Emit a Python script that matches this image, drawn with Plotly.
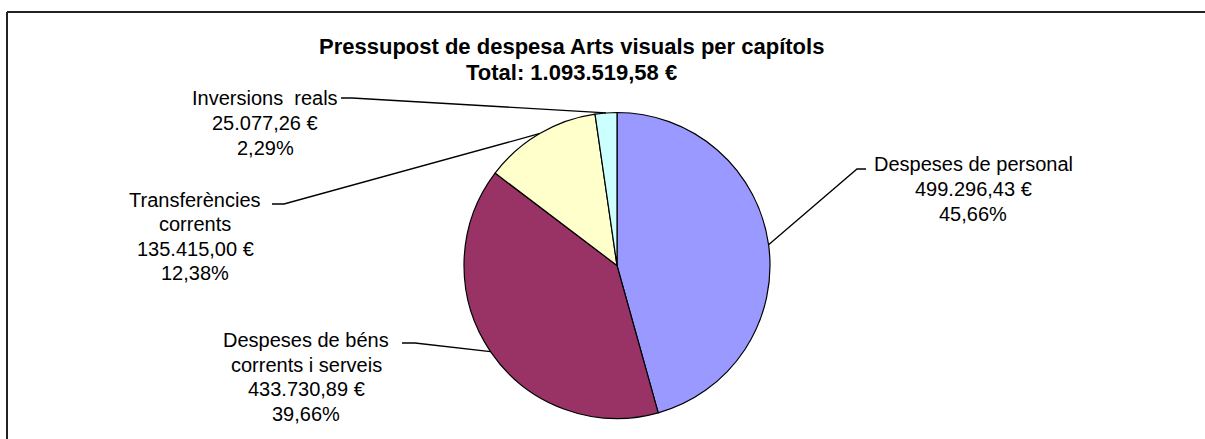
import numpy as np
import plotly.graph_objects as go

# ---------------- data ----------------
categories = [
    "Despeses de personal",
    "Despeses de béns corrents i serveis",
    "Transferències corrents",
    "Inversions reals",
]
values = [499296.43, 433730.89, 135415.00, 25077.26]
label_lines = [
    ["Despeses de personal"],
    ["Despeses de béns", "corrents i serveis"],
    ["Transferències", "corrents"],
    ["Inversions  reals"],
]
colors = ["#9999FF", "#993366", "#FFFFCC", "#CCFFFF"]
title_text = "Pressupost de despesa Arts visuals per capítols"

# ---------------- layout constants (pixels) ----------------
W, H = 1205, 439
CX, CY, R = 617, 265.5, 153
# label block centres (x, y middle)
label_pos = [(973, 189), (306, 377), (195, 236.5), (265, 123)]
# leader line text-side points: [text end, elbow]
leader_pts = [
    [(866, 169), (857, 169)],
    [(402, 343), (415, 343)],
    [(272, 204), (284, 204)],
    [(341, 98), (352, 98)],
]
LABEL_FONT = 20
LABEL_LINE = 24.6
TITLE_FONT = 22
TITLE_X = 571
TITLE_Y = [46, 73]
FONT_FAMILY = "Liberation Sans, Arial"


def fmt_eur(v):
    s = f"{v:,.2f}"
    return s.replace(",", "X").replace(".", ",").replace("X", ".") + " €"


def fmt_pct(p):
    return f"{p:.2f}".replace(".", ",") + "%"


def px(x):
    return x / W


def py(y):
    return 1 - y / H


total = sum(values)
fractions = np.array(values) / total

fig = go.Figure()
fig.add_trace(
    go.Pie(
        labels=categories,
        values=values,
        sort=False,
        direction="clockwise",
        rotation=0,
        marker=dict(colors=colors, line=dict(color="black", width=1.2)),
        textinfo="none",
        hoverinfo="label+value+percent",
        showlegend=False,
        domain=dict(x=[px(CX - R), px(CX + R)], y=[py(CY + R), py(CY - R)]),
    )
)

annotations = []
shapes = []

# title
for txt, ty in zip([title_text, f"Total: {fmt_eur(total)}"], TITLE_Y):
    annotations.append(
        dict(
            text=f"<b>{txt}</b>",
            x=px(TITLE_X), y=py(ty), xref="paper", yref="paper",
            xanchor="center", yanchor="middle", showarrow=False,
            font=dict(family=FONT_FAMILY, size=TITLE_FONT, color="black"),
        )
    )

cum = np.cumsum(fractions) - fractions / 2
for i in range(len(values)):
    ang = 2 * np.pi * cum[i]
    ex = CX + R * np.sin(ang)
    ey = CY - R * np.cos(ang)
    lines = label_lines[i] + [fmt_eur(values[i]), fmt_pct(fractions[i] * 100)]
    lx, ly = label_pos[i]
    n = len(lines)
    for k, line in enumerate(lines):
        yk = ly + (k - (n - 1) / 2) * LABEL_LINE
        annotations.append(
            dict(
                text=line,
                x=px(lx), y=py(yk), xref="paper", yref="paper",
                xanchor="center", yanchor="middle", showarrow=False,
                font=dict(family=FONT_FAMILY, size=LABEL_FONT, color="black"),
            )
        )
    (x0, y0), (x1, y1) = leader_pts[i]
    path = f"M {px(x0)},{py(y0)} L {px(x1)},{py(y1)} L {px(ex)},{py(ey)}"
    shapes.append(
        dict(type="path", path=path, xref="paper", yref="paper",
             line=dict(color="black", width=1.3))
    )

# outer frame (top and left edges visible)
shapes.append(
    dict(type="line", xref="paper", yref="paper",
         x0=px(7), y0=py(12), x1=1.0, y1=py(12),
         line=dict(color="#222222", width=2))
)
shapes.append(
    dict(type="line", xref="paper", yref="paper",
         x0=px(7), y0=py(12), x1=px(7), y1=0.0,
         line=dict(color="#222222", width=2))
)

fig.update_layout(
    width=W, height=H,
    margin=dict(l=0, r=0, t=0, b=0),
    paper_bgcolor="white",
    plot_bgcolor="white",
    annotations=annotations,
    shapes=shapes,
    showlegend=False,
)

fig.write_html(
    "out.html",
    config={"displayModeBar": False},
    post_script="document.body.style.margin='0';document.body.style.overflow='hidden';",
)
